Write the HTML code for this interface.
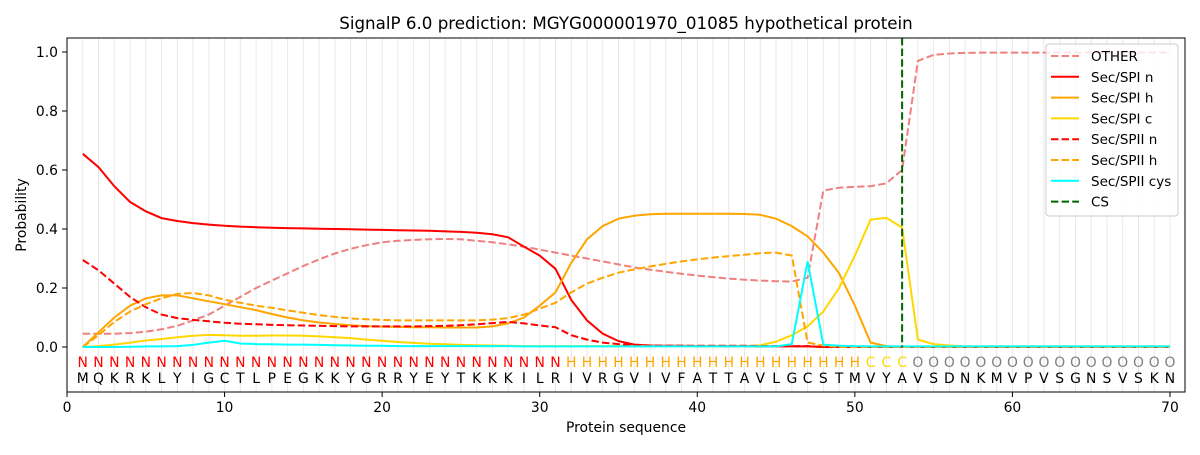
<!DOCTYPE html>
<html><head><meta charset="utf-8"><style>
html,body{margin:0;padding:0;background:#fff;}
svg text{font-family:"DejaVu Sans","Liberation Sans",sans-serif;}
</style></head><body>
<svg id="s" width="1200" height="450" xmlns="http://www.w3.org/2000/svg"></svg>
<script>
const X=i=>67+15.757*i, Y=v=>347-295*v;
let h='';
for(let i=1;i<=70;i++){h+=`<line x1="${X(i)}" y1="38" x2="${X(i)}" y2="392" stroke="#e8e8e8" stroke-width="1"/>`;}
const S={
other:[.045,.045,.045,.047,.052,.06,.072,.09,.11,.14,.17,.2,.225,.25,.275,.297,.317,.333,.345,.355,.36,.363,.365,.366,.365,.36,.355,.348,.34,.33,.32,.31,.3,.29,.28,.27,.262,.255,.248,.242,.237,.232,.228,.225,.223,.222,.235,.53,.54,.543,.545,.555,.6,.97,.99,.995,.997,.998,.998,.998,.998,.998,.998,.998,.998,.998,.998,.998,.998,.998],
n1:[.655,.61,.545,.492,.46,.437,.427,.42,.415,.411,.408,.406,.404,.403,.402,.401,.4,.399,.398,.397,.396,.395,.394,.392,.39,.387,.382,.372,.34,.31,.265,.16,.09,.045,.02,.008,.005,.004,.004,.003,.003,.003,.003,.002,.002,.002,.002,0,0,0,0,0,0,0,0,0,0,0,0,0,0,0,0,0,0,0,0,0,0,0],
h1:[0,.05,.1,.14,.165,.175,.175,.165,.155,.145,.135,.125,.112,.1,.09,.083,.078,.074,.071,.069,.068,.067,.067,.066,.066,.066,.07,.08,.1,.14,.185,.285,.365,.41,.435,.445,.45,.452,.452,.452,.452,.452,.451,.448,.435,.41,.375,.32,.25,.14,.015,.003,0,0,0,0,0,0,0,0,0,0,0,0,0,0,0,0,0,0],
c1:[0,.003,.008,.015,.022,.027,.033,.038,.041,.04,.038,.038,.039,.039,.038,.036,.033,.03,.025,.021,.017,.014,.011,.009,.007,.006,.005,.004,.003,.003,.003,.003,.003,.003,.003,.003,.003,.003,.003,.003,.003,.003,.003,.006,.018,.04,.07,.12,.2,.31,.432,.438,.405,.025,.01,.005,.002,.002,.002,.002,.002,.002,.002,.002,.002,.002,.002,.002,.002,.002],
n2:[.295,.26,.215,.17,.135,.11,.098,.092,.087,.082,.079,.077,.075,.074,.073,.072,.071,.07,.07,.07,.07,.07,.071,.072,.074,.077,.081,.085,.08,.073,.067,.04,.025,.015,.01,.006,.005,.004,.004,.004,.004,.004,.004,.003,.003,.003,.003,0,0,0,0,0,0,0,0,0,0,0,0,0,0,0,0,0,0,0,0,0,0,0],
h2:[0,.04,.085,.12,.145,.165,.18,.183,.175,.16,.15,.14,.133,.124,.116,.108,.102,.097,.094,.092,.09,.09,.09,.09,.09,.09,.093,.098,.11,.13,.15,.185,.215,.235,.252,.263,.273,.282,.29,.297,.303,.308,.313,.318,.32,.31,.015,.005,0,0,0,0,0,0,0,0,0,0,0,0,0,0,0,0,0,0,0,0,0,0],
cy:[0,0,0,.001,.002,.002,.003,.007,.015,.021,.012,.01,.009,.008,.008,.007,.006,.005,.004,.004,.003,.003,.003,.003,.003,.003,.003,.003,.002,.002,.002,.002,.002,.002,.002,.002,.002,.002,.002,.002,.002,.002,.002,.002,.002,.01,.29,.008,.004,.003,.002,.002,.002,.002,.002,.002,.002,.002,.002,.002,.002,.002,.002,.002,.002,.002,.002,.002,.002,.002]
};
function pl(a,c,d){let p=a.map((v,i)=>X(i+1).toFixed(1)+','+Y(v).toFixed(1)).join(' ');
 return `<polyline points="${p}" fill="none" stroke="${c}" stroke-width="2" ${d?'stroke-dasharray="7.4,3.2"':''}/>`;}
h+=pl(S.other,'#f08080',1)+pl(S.n1,'#ff0000')+pl(S.h1,'#ffa500')+pl(S.c1,'#ffd700')+pl(S.n2,'#ff0000',1)+pl(S.h2,'#ffa500',1)+pl(S.cy,'#00ffff');
h+=`<line x1="${X(53)}" y1="38" x2="${X(53)}" y2="${Y(0)}" stroke="#006400" stroke-width="2" stroke-dasharray="7.4,3.2"/>`;
const seq="MQKRKLYIGCTLPEGKKYGRRYEYTKKKILRIVRGVIVFATTAVLGCSTMVYAVSDNKMVPVSGNSVSKN";
for(let i=1;i<=70;i++){
 let lab,col;
 if(i<=31){lab='N';col='#ff0000';}else if(i<=50){lab='H';col='#ffa500';}else if(i<=53){lab='C';col='#ffd700';}else{lab='O';col='#808080';}
 h+=`<text x="${X(i)}" y="367" font-size="13.9" fill="${col}" text-anchor="middle">${lab}</text>`;
 h+=`<text x="${X(i)}" y="383" font-size="13.9" fill="#000" text-anchor="middle">${seq[i-1]}</text>`;
}
h+=`<rect x="67" y="38" width="1118" height="354" fill="none" stroke="#000" stroke-width="1"/>`;
for(let t=0;t<=70;t+=10){h+=`<line x1="${X(t)}" y1="392" x2="${X(t)}" y2="397" stroke="#000"/><text x="${X(t)}" y="412" font-size="13.9" text-anchor="middle">${t}</text>`;}
for(let k=0;k<=5;k++){let v=k*0.2;h+=`<line x1="62" y1="${Y(v)}" x2="67" y2="${Y(v)}" stroke="#000"/><text x="58" y="${Y(v)+5}" font-size="13.9" text-anchor="end">${v.toFixed(1)}</text>`;}
h+=`<text x="626" y="432" font-size="13.9" text-anchor="middle">Protein sequence</text>`;
h+=`<text x="26" y="215" font-size="13.9" text-anchor="middle" transform="rotate(-90 26 215)">Probability</text>`;
h+=`<text x="626" y="29" font-size="16.7" text-anchor="middle">SignalP 6.0 prediction: MGYG000001970_01085 hypothetical protein</text>`;
h+=`<rect x="1046" y="44" width="132" height="172" rx="3" fill="#fff" fill-opacity="0.8" stroke="#ccc"/>`;
const L=[['OTHER','#f08080',1],['Sec/SPI n','#ff0000',0],['Sec/SPI h','#ffa500',0],['Sec/SPI c','#ffd700',0],['Sec/SPII n','#ff0000',1],['Sec/SPII h','#ffa500',1],['Sec/SPII cys','#00ffff',0],['CS','#006400',1]];
L.forEach((e,i)=>{let y=56+i*20.8;h+=`<line x1="1051" y1="${y}" x2="1079" y2="${y}" stroke="${e[1]}" stroke-width="2" ${e[2]?'stroke-dasharray="7.4,3.2"':''}/><text x="1091" y="${y+5}" font-size="13.5">${e[0]}</text>`;});
document.getElementById('s').innerHTML=h;
</script>
</body></html>
